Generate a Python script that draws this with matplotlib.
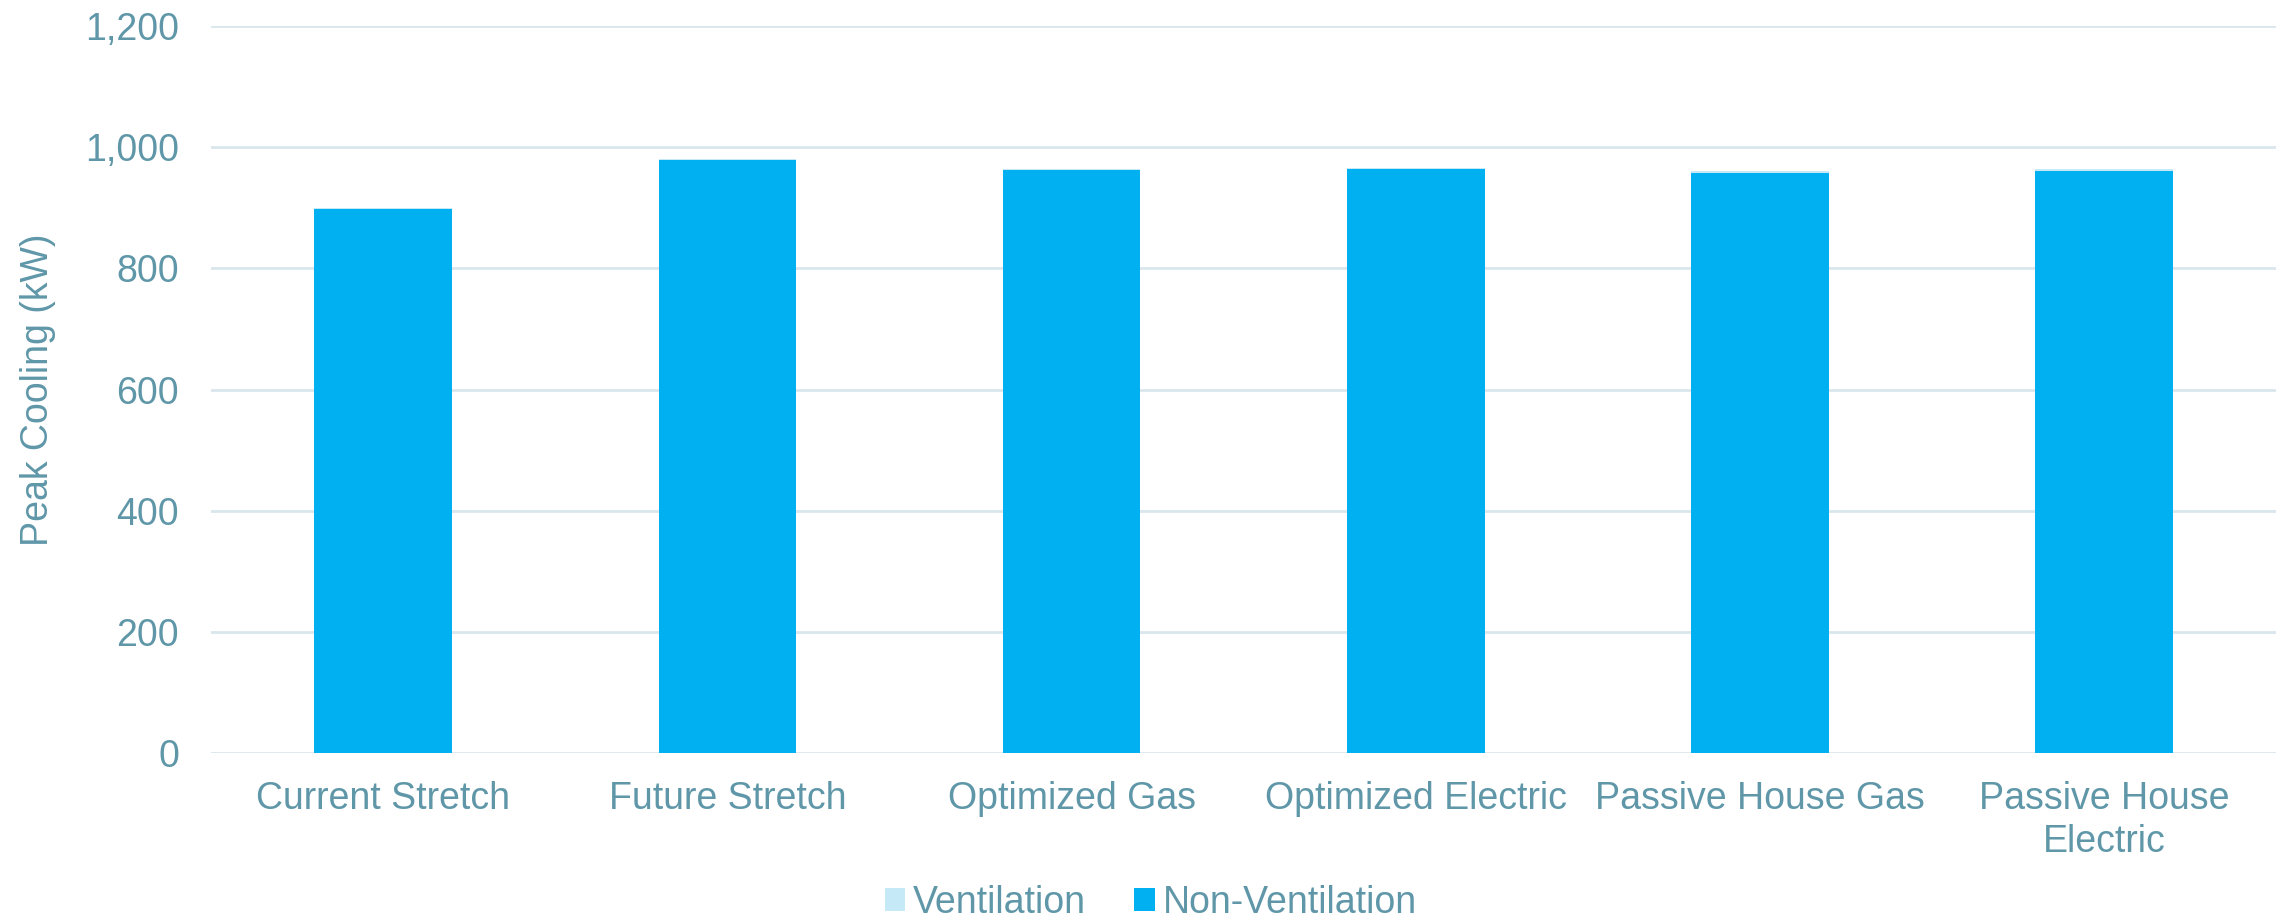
"""
Peak cooling by scenario, stacked ventilation / non-ventilation
"""

import numpy as np
import matplotlib
matplotlib.use("Agg")
import matplotlib.pyplot as plt
from matplotlib.ticker import FuncFormatter

scenarios = ["Current Stretch", "Future Stretch", "Optimized Gas",
             "Optimized Electric", "Passive House Gas", "Passive House\nElectric"]
non_ventilation = [898, 979, 962, 963, 958, 961]
ventilation = [2, 2, 2, 2, 2, 2]

TEXT = "#5F97A9"
GRID = "#D9E7EC"
C_VENT = "#C5E9F7"
C_NONVENT = "#00B0F0"
FS = 27

plt.rcParams["font.family"] = ["Liberation Sans", "DejaVu Sans"]

fig = plt.figure(figsize=(22.83, 9.23), dpi=100)
ax = fig.add_axes([0.0925, 0.184, 0.9045, 0.788])

x = np.arange(len(scenarios))
ax.bar(x, non_ventilation, width=0.4, color=C_NONVENT, label="Non-Ventilation", zorder=3)
ax.bar(x, ventilation, width=0.4, bottom=non_ventilation, color=C_VENT,
       label="Ventilation", zorder=3)

ax.set_ylim(0, 1200)
ax.set_xlim(-0.5, len(scenarios) - 0.5)
ax.set_yticks(range(0, 1201, 200))
ax.yaxis.set_major_formatter(FuncFormatter(lambda v, p: f"{int(v):,}"))
ax.set_xticks(x)
ax.set_xticklabels(scenarios, linespacing=1.25)
ax.tick_params(axis="both", length=0, labelsize=FS, labelcolor=TEXT)
ax.tick_params(axis="x", pad=20)
ax.tick_params(axis="y", pad=23)
ax.grid(axis="y", color=GRID, linewidth=2, zorder=0)
for s in ax.spines.values():
    s.set_visible(False)
ax.set_ylabel("Peak Cooling (kW)", fontsize=FS, color=TEXT)
ax.yaxis.set_label_coords(-0.075, 0.5)

h, l = ax.get_legend_handles_labels()
fig.legend(h[::-1], l[::-1], loc="lower center", bbox_to_anchor=(0.504, -0.034),
           ncol=2, frameon=False, fontsize=FS, labelcolor=TEXT,
           handlelength=0.55, handleheight=0.55, handletextpad=0.2, columnspacing=1.3)

fig.savefig("out.png", dpi=100)
